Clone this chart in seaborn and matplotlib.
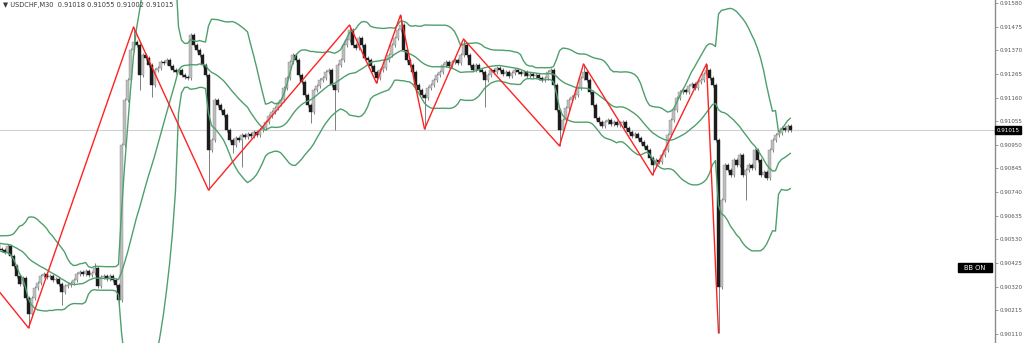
import numpy as np
import pandas as pd
import matplotlib
matplotlib.use("Agg")
import matplotlib.pyplot as plt
from matplotlib.patches import Rectangle
import seaborn as sns

# ---------------- data ----------------
symbol_header = "\u25bc USDCHF,M30  0.91018 0.91055 0.91002 0.91015"
last_price = 0.91015

# 20 bars of history before the first visible bar (needed for the Bollinger bands)
warmup_close = [0.90536, 0.90519, 0.90505, 0.90527, 0.90545, 0.90510, 0.90492, 0.90514,
                0.90532, 0.90523, 0.90501, 0.90483, 0.90510, 0.90527, 0.90505, 0.90519,
                0.90536, 0.90496, 0.90510, 0.90487]

close = [
    0.90483, 0.90474, 0.90501, 0.90456, 0.90412, 0.90368, 0.90332, 0.90359, 0.90270, 0.90199,
    0.90270, 0.90314, 0.90336, 0.90368, 0.90376, 0.90363, 0.90368, 0.90350, 0.90354, 0.90332,
    0.90297, 0.90323, 0.90328, 0.90336, 0.90350, 0.90376, 0.90385, 0.90376, 0.90390, 0.90372,
    0.90381, 0.90403, 0.90323, 0.90363, 0.90368, 0.90354, 0.90368, 0.90350, 0.90328, 0.90261,
    0.90949, 0.91149, 0.91238, 0.91371, 0.91407, 0.91393, 0.91260, 0.91349, 0.91335, 0.91304,
    0.91216, 0.91282, 0.91291, 0.91318, 0.91313, 0.91327, 0.91300, 0.91282, 0.91273, 0.91282,
    0.91260, 0.91251, 0.91247, 0.91438, 0.91393, 0.91371, 0.91349, 0.91304, 0.91260, 0.90927,
    0.90971, 0.91149, 0.91127, 0.91105, 0.91082, 0.91016, 0.90971, 0.90949, 0.90980, 0.90971,
    0.90994, 0.90985, 0.90998, 0.90989, 0.91007, 0.90994, 0.91016, 0.91025, 0.91051, 0.91078,
    0.91096, 0.91113, 0.91131, 0.91149, 0.91202, 0.91247, 0.91318, 0.91349, 0.91327, 0.91260,
    0.91229, 0.91171, 0.91127, 0.91096, 0.91193, 0.91211, 0.91238, 0.91247, 0.91273, 0.91282,
    0.91216, 0.91193, 0.91304, 0.91327, 0.91393, 0.91415, 0.91460, 0.91393, 0.91380, 0.91424,
    0.91393, 0.91335, 0.91327, 0.91300, 0.91273, 0.91247, 0.91282, 0.91291, 0.91327, 0.91349,
    0.91393, 0.91424, 0.91460, 0.91482, 0.91371, 0.91327, 0.91304, 0.91273, 0.91216, 0.91193,
    0.91171, 0.91158, 0.91202, 0.91216, 0.91238, 0.91260, 0.91273, 0.91304, 0.91318, 0.91300,
    0.91318, 0.91327, 0.91313, 0.91349, 0.91393, 0.91349, 0.91304, 0.91282, 0.91304, 0.91282,
    0.91273, 0.91238, 0.91260, 0.91282, 0.91273, 0.91291, 0.91282, 0.91264, 0.91273, 0.91256,
    0.91269, 0.91282, 0.91273, 0.91264, 0.91273, 0.91256, 0.91264, 0.91256, 0.91260, 0.91247,
    0.91238, 0.91247, 0.91273, 0.91282, 0.91216, 0.91105, 0.91016, 0.91060, 0.91113, 0.91149,
    0.91162, 0.91171, 0.91202, 0.91247, 0.91273, 0.91238, 0.91185, 0.91127, 0.91069, 0.91051,
    0.91034, 0.91051, 0.91060, 0.91042, 0.91051, 0.91038, 0.91047, 0.91051, 0.91025, 0.91007,
    0.90989, 0.90998, 0.90980, 0.90963, 0.90945, 0.90927, 0.90891, 0.90860, 0.90883, 0.90874,
    0.90905, 0.90927, 0.90994, 0.91060, 0.91105, 0.91158, 0.91185, 0.91193, 0.91185, 0.91211,
    0.91220, 0.91202, 0.91229, 0.91238, 0.91264, 0.91282, 0.91247, 0.91216, 0.90971, 0.90318,
    0.90705, 0.90860, 0.90838, 0.90816, 0.90883, 0.90860, 0.90905, 0.90816, 0.90838, 0.90860,
    0.90847, 0.90927, 0.90883, 0.90816, 0.90829, 0.90803, 0.90927, 0.90971, 0.90994, 0.91002,
    0.91025, 0.91016, 0.91034, 0.91015,
]

# bars with long wicks (bar index, extreme price)
long_high_bars = [31, 44, 116, 133, 154, 194, 235]
long_high_vals = [0.90425, 0.91473, 0.91482, 0.91526, 0.91420, 0.91309, 0.91309]
long_low_bars = [9, 20, 39, 46, 50, 69, 77, 80, 103, 111, 125, 141, 161, 186, 217, 239, 248]
long_low_vals = [0.90137, 0.90239, 0.90225, 0.91193, 0.91162, 0.90749, 0.90914, 0.90852,
                 0.91047, 0.91016, 0.91224, 0.91020, 0.91118, 0.90945, 0.90816, 0.90114, 0.90705]

# ZigZag pivots (bar index, price); first pivot lies in the hidden history
zz_bars = [-16, 9, 44, 69, 116, 125, 133, 141, 154, 186, 194, 217, 235, 239]
zz_prices = [0.90550, 0.90137, 0.91473, 0.90749, 0.91482, 0.91224, 0.91526, 0.91020,
             0.91420, 0.90945, 0.91309, 0.90816, 0.91309, 0.90114]

price_ticks = [0.91580, 0.91475, 0.91370, 0.91265, 0.91160, 0.91055, 0.90950, 0.90845,
               0.90740, 0.90635, 0.90530, 0.90425, 0.90320, 0.90215, 0.90110]
price_tick_labels = ["0.91580", "0.91475", "0.91370", "0.91265", "0.91160", "0.91055",
                     "0.90950", "0.90845", "0.90740", "0.90635", "0.90530", "0.90425",
                     "0.90320", "0.90215", "0.90110"]

# ---------------- derived series ----------------
n_warm = len(warmup_close)
full_close = np.array(warmup_close + close)
full_idx = np.arange(-n_warm, len(close))
full_open = np.concatenate([[full_close[0]], full_close[:-1]])
pad = 0.00008
full_high = np.maximum(full_open, full_close) + pad
full_low = np.minimum(full_open, full_close) - pad
for b, v in zip(long_high_bars, long_high_vals):
    full_high[b + n_warm] = v
for b, v in zip(long_low_bars, long_low_vals):
    full_low[b + n_warm] = v

s = pd.Series(full_close)
mid = s.rolling(20).mean()
sd = s.rolling(20).std(ddof=0)
bands = pd.DataFrame({"bar": full_idx, "mid": mid, "upper": mid + 2 * sd, "lower": mid - 2 * sd})

# ---------------- figure ----------------
sns.set_style("white")
plt.rcParams["font.family"] = ["DejaVu Sans"]
W, H = 1024, 343
fig = plt.figure(figsize=(W / 100, H / 100), dpi=100)
fig.patch.set_facecolor("white")
ax = fig.add_axes([0, 0, 995 / W, 1])
ax.set_facecolor("white")

ax.axhline(last_price, color="#d2d2d2", lw=0.8, zorder=0)

# candles
up = full_close >= full_open
ax.vlines(full_idx, full_low, full_high, color="#808080", lw=0.7, zorder=2)
body_h = np.abs(full_close - full_open)
body_h = np.maximum(body_h, 0.000012)
body_b = np.minimum(full_open, full_close)
ax.bar(full_idx[up], body_h[up], bottom=body_b[up], width=0.75, color="#bdbdbd",
       edgecolor="#8a8a8a", linewidth=0.3, zorder=3)
ax.bar(full_idx[~up], body_h[~up], bottom=body_b[~up], width=0.75, color="#1c1c1c",
       edgecolor="#1c1c1c", linewidth=0.3, zorder=3)

# Bollinger bands
band_color = "#4f9f6d"
for col in ["upper", "mid", "lower"]:
    sns.lineplot(data=bands, x="bar", y=col, ax=ax, color=band_color, lw=1.0,
                 estimator=None, sort=False, zorder=4)

# ZigZag
zz = pd.DataFrame({"bar": zz_bars, "price": zz_prices})
sns.lineplot(data=zz, x="bar", y="price", ax=ax, color="#ff2222", lw=1.0,
             estimator=None, sort=False, zorder=5)

# axes / scales
ax.set_xlim(-0.5, (995 - 1.5) / 3)
ax.set_ylim(0.90070, 0.91593)
for side in ["top", "left", "bottom"]:
    ax.spines[side].set_visible(False)
ax.spines["right"].set_visible(True)
ax.spines["right"].set_color("#8c8c8c")
ax.spines["right"].set_linewidth(1.0)
ax.set_xticks([])
ax.set_xlabel("")
ax.set_ylabel("")
ax.yaxis.tick_right()
ax.set_yticks(price_ticks)
ax.set_yticklabels(price_tick_labels)
ax.tick_params(axis="y", which="both", right=True, left=False, labelright=True,
               labelleft=False, direction="out", length=2, width=0.6, pad=1.0,
               labelsize=4.1, colors="#8c8c8c", labelcolor="#555555")

# current price box
ax.text(1.0015, last_price, "0.91015", transform=ax.get_yaxis_transform(),
        ha="left", va="center", fontsize=4.1, color="white",
        bbox=dict(boxstyle="square,pad=0.3", fc="black", ec="black"), zorder=10, clip_on=False)

# header
fig.text(3 / W, 1 - 5 / H, symbol_header, ha="left", va="center", fontsize=4.8, color="#3a3a3a")

# BB ON button
fig.add_artist(Rectangle((958 / W, 1 - 272 / H), 34 / W, 9 / H, transform=fig.transFigure,
                         facecolor="black", edgecolor="black"))
fig.text(975 / W, 1 - 267.5 / H, "BB ON", ha="center", va="center", fontsize=4.8, color="white")

fig.savefig("out.png", dpi=100, facecolor="white")
